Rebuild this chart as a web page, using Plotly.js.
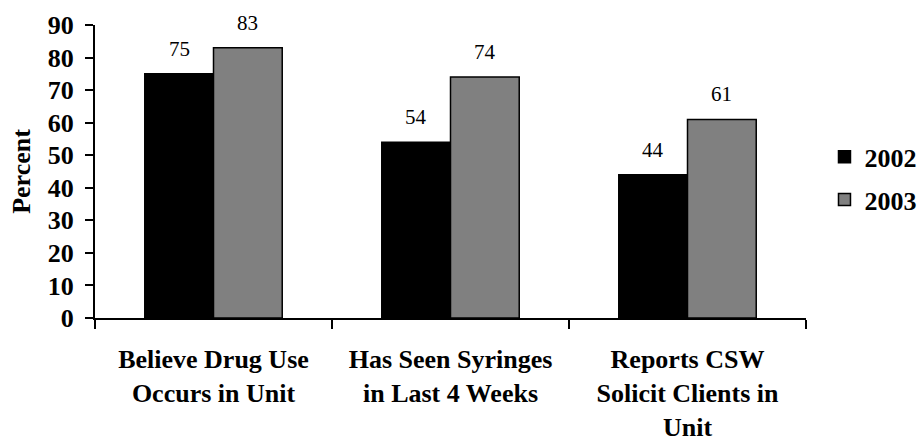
<!DOCTYPE html>
<html>
<head>
<meta charset="utf-8">
<script src="https://cdn.plot.ly/plotly-3.0.1.min.js"></script>
</head>
<body style="margin:0;background:#fff">
<div id="chart" style="width:920px;height:442px"></div>
<script>
var categories = ["Believe Drug Use<br>Occurs in Unit", "Has Seen Syringes<br>in Last 4 Weeks", "Reports CSW<br>Solicit Clients in<br>Unit"];
var values2002 = [75, 54, 44];
var values2003 = [83, 74, 61];
var seriesNames = ["2002", "2003"];
var yTicks = [0, 10, 20, 30, 40, 50, 60, 70, 80, 90];

var FONT = "Liberation Serif";
var BARGAP = 0.42;
var half = (1 - BARGAP) / 4;

var traces = [
  {type: "bar", name: seriesNames[0], x: categories, y: values2002, legendgroup: "a",
   marker: {color: "#000000", line: {color: "#000000", width: 1.5}}, hoverinfo: "skip"},
  {type: "bar", name: seriesNames[1], x: categories, y: values2003, legendgroup: "b",
   marker: {color: "#808080", line: {color: "#000000", width: 1.5}}, hoverinfo: "skip"}
];

var annotations = [];
[values2002, values2003].forEach(function (vals, s) {
  vals.forEach(function (v, i) {
    annotations.push({
      x: i + (s === 0 ? -half : half), y: v, xref: "x", yref: "y",
      text: String(v), showarrow: false, yanchor: "bottom", yshift: 11,
      font: {family: FONT, size: 21, color: "#000"}
    });
  });
});

var layout = {
  width: 920, height: 442,
  margin: {l: 95, r: 114, t: 25, b: 124, autoexpand: false},
  paper_bgcolor: "#fff", plot_bgcolor: "#fff",
  barmode: "group", bargap: BARGAP, bargroupgap: 0,
  font: {family: FONT, color: "#000"},
  xaxis: {
    type: "category", showline: true, linecolor: "#000", linewidth: 2,
    ticks: "outside", tickson: "boundaries", ticklen: 9, tickwidth: 2, tickcolor: "#000",
    showgrid: false, zeroline: false, ticklabelstandoff: 17,
    tickfont: {family: FONT, size: 26, weight: "bold", color: "#000"}
  },
  yaxis: {
    range: [0, 90], tickvals: yTicks, showline: true, linecolor: "#000", linewidth: 2,
    ticks: "outside", ticklen: 8, tickwidth: 2, tickcolor: "#000",
    showgrid: false, zeroline: false, ticklabelstandoff: 6,
    tickfont: {family: FONT, size: 26, weight: "bold", color: "#000"},
    title: {text: "Percent", standoff: 10, font: {family: FONT, size: 26, weight: "bold", color: "#000"}}
  },
  showlegend: true,
  legend: {
    x: 1.026, xanchor: "left", y: 0.63, yanchor: "top",
    traceorder: "grouped", tracegroupgap: 6,
    font: {family: FONT, size: 26, weight: "bold", color: "#000"},
    bgcolor: "rgba(0,0,0,0)"
  },
  annotations: annotations
};

Plotly.newPlot("chart", traces, layout, {staticPlot: true, displayModeBar: false});
</script>
</body>
</html>
